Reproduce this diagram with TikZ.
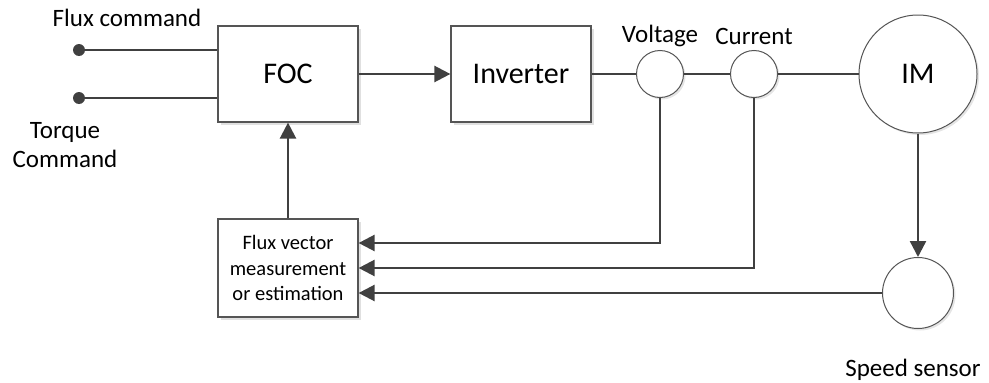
\documentclass[tikz,border=0pt]{standalone}
\usepackage{fontspec}
\setmainfont{Carlito}
\usepackage{tikz}
\usetikzlibrary{positioning,arrows.meta,shadows}

\definecolor{wire}{HTML}{404040}
\definecolor{rim}{HTML}{555555}

\begin{document}
\begin{tikzpicture}[x=1pt, y=-1pt,
    blk/.style={draw=rim, line width=1.2pt, fill=white, minimum width=140pt,
      minimum height=96pt, inner sep=0pt,
      drop shadow={shadow xshift=3pt, shadow yshift=-3pt, fill=black!12, opacity=1}},
    sens/.style={circle, draw=rim, line width=1pt, fill=white, inner sep=0pt,
      drop shadow={shadow xshift=2pt, shadow yshift=-2pt, fill=black!10, opacity=1}},
    big/.style={font=\fontsize{30}{36}\selectfont},
    lbl/.style={font=\fontsize{25}{29}\selectfont, inner sep=0pt, align=center},
    wr/.style={draw=wire, line width=2.4pt},
    conn/.style={wr, -{Triangle[length=16pt,width=16pt]}}]
  \useasboundingbox (0,0) rectangle (989,383);
  % blocks
  \node[blk,big] (foc) at (288,74) {FOC};
  \node[blk,big] (inv) at (521,74) {Inverter};
  \node[blk, minimum height=98pt, align=center,
    font=\fontsize{20.5}{25.5}\selectfont] (est) at (288,268)
    {Flux vector\\measurement\\or estimation};
  % sensors and machine
  \node[sens, minimum size=47pt] (volt) at (660,74) {};
  \node[sens, minimum size=47pt] (curr) at (754,74) {};
  \node[sens, big, minimum size=118pt] (im) at (918,74) {IM};
  \node[sens, minimum size=71pt] (spd) at (918,293) {};
  % inputs
  \fill[wire] (79,50) circle (6pt) coordinate (fluxin);
  \fill[wire] (79,98) circle (6pt) coordinate (torqin);
  % labels
  \node[lbl] (fluxlbl) at (127,18) {Flux command};
  \node[lbl] (torqlbl) at (65,145) {Torque\\Command};
  \node[lbl] (voltlbl) at (660,36) {Voltage};
  \node[lbl] (currlbl) at (754,36) {Current};
  \node[lbl] (spdlbl) at (913,370) {Speed sensor};
  % forward path
  \draw[wr] (fluxin) -- (fluxin -| foc.west);
  \draw[wr] (torqin) -- (torqin -| foc.west);
  \draw[conn] (foc.east) -- (inv.west);
  \draw[wr] (inv.east) -- (volt.west);
  \draw[wr] (volt.east) -- (curr.west);
  \draw[wr] (curr.east) -- (im.west);
  \draw[conn] (im.south) -- (spd.north);
  % feedback
  \draw[conn] (volt.south) |- ([yshift=25pt]est.east);
  \draw[conn] (curr.south) |- (est.east);
  \draw[conn] (spd.west) -- (spd.west -| est.east);
  \draw[conn] (est.north) -- (foc.south);
\end{tikzpicture}
\end{document}
